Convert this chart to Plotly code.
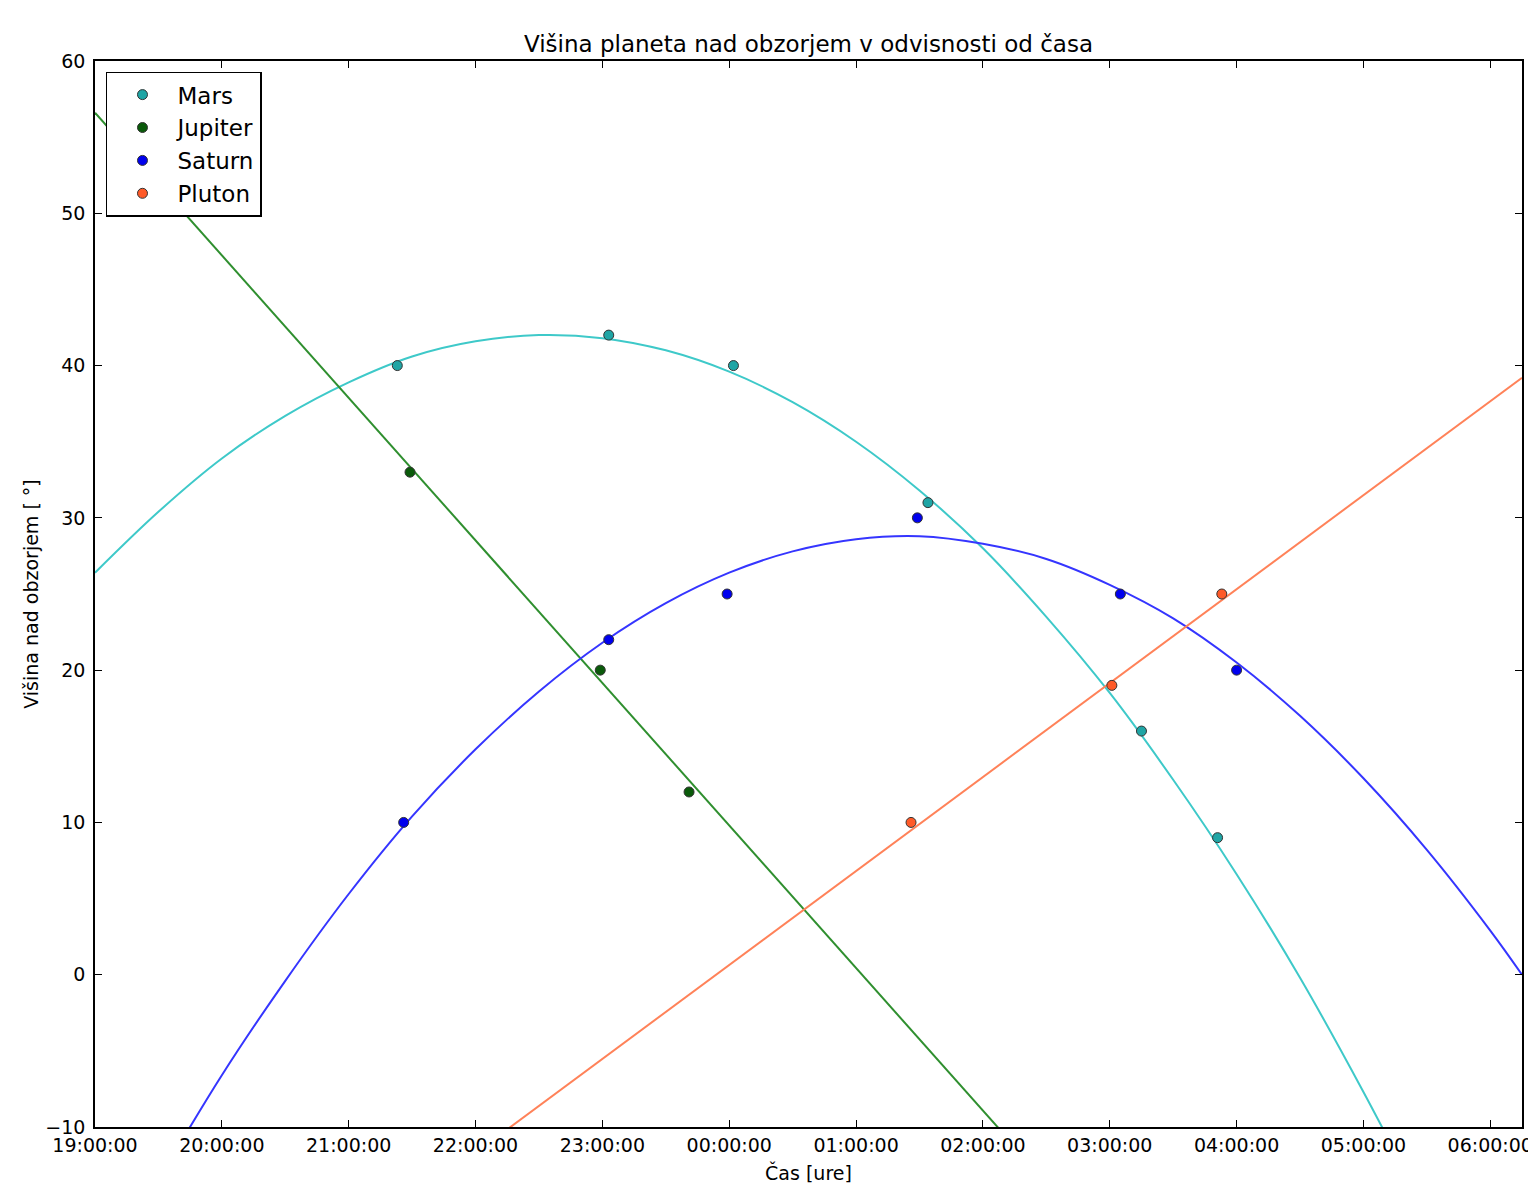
import plotly.graph_objects as go
from datetime import datetime

# ---------------- data ----------------
mars_t = ["21:23", "23:03", "00:02", "01:34", "03:15", "03:51"]
mars_v = [40, 42, 40, 31, 16, 9]

jupiter_t = ["21:29", "22:59", "23:41"]
jupiter_v = [33, 20, 12]

saturn_t = ["21:26", "23:03", "23:59", "01:29", "03:05", "04:00"]
saturn_v = [10, 22, 25, 30, 25, 20]

pluton_t = ["01:26", "03:01", "03:53"]
pluton_v = [10, 19, 25]

# fitted curves as drawn in the picture (sampled)
mars_fit_t = ["19:00", "19:30", "20:00", "20:30", "21:00", "21:30", "22:00", "22:30",
              "23:00", "23:30", "00:00", "00:30", "01:00", "01:30", "02:00", "02:30",
              "03:00", "03:30", "04:00", "04:30", "05:00", "05:30"]
mars_fit_v = [26.4, 30.4, 33.9, 36.7, 38.9, 40.6, 41.6, 42.0, 41.8, 41.0, 39.6, 37.6,
              35.0, 31.8, 28.0, 23.5, 18.5, 12.8, 6.6, -0.2, -7.7, -15.7]

saturn_fit_t = ["19:30", "20:00", "20:30", "21:00", "21:30", "22:00", "22:30", "23:00",
                "23:30", "00:00", "00:30", "01:00", "01:30", "02:00", "02:30", "03:00",
                "03:30", "04:00", "04:30", "05:00", "05:30", "06:00", "06:15"]
saturn_fit_v = [-13.5, -6.6, -0.4, 5.3, 10.4, 14.8, 18.6, 21.8, 24.4, 26.4, 27.8, 28.6,
                28.8, 28.3, 27.3, 25.6, 23.4, 20.5, 17.0, 12.9, 8.2, 2.9, 0.0]

jupiter_fit_t = ["19:00", "02:30"]
jupiter_fit_v = [56.6, -13.6]

pluton_fit_t = ["22:00", "06:15"]
pluton_fit_v = [-11.7, 39.2]

y_ticks = [-10, 0, 10, 20, 30, 40, 50, 60]


def to_dt(hm):
    h, m = map(int, hm.split(":"))
    base = datetime(2015, 1, 1) if h >= 12 else datetime(2015, 1, 2)
    return base.replace(hour=h, minute=m)


def conv(lst):
    return [to_dt(s) for s in lst]


series = [
    ("Mars", mars_t, mars_v, mars_fit_t, mars_fit_v, "#1fa5a5", "#3ec9c9"),
    ("Jupiter", jupiter_t, jupiter_v, jupiter_fit_t, jupiter_fit_v, "#0a5a0a", "#2f8f2f"),
    ("Saturn", saturn_t, saturn_v, saturn_fit_t, saturn_fit_v, "#0000ee", "#3535ff"),
    ("Pluton", pluton_t, pluton_v, pluton_fit_t, pluton_fit_v, "#ff5a28", "#ff8259"),
]

fig = go.Figure()

for name, t, v, ft, fv, mcol, lcol in series:
    fig.add_trace(go.Scatter(
        x=conv(ft), y=fv, mode="lines", line=dict(color=lcol, width=2, shape="spline"),
        showlegend=False, hoverinfo="skip"))

for name, t, v, ft, fv, mcol, lcol in series:
    fig.add_trace(go.Scatter(
        x=conv(t), y=v, mode="markers", name=name,
        marker=dict(color=mcol, size=10, line=dict(color="#333333", width=1))))

font_family = "DejaVu Sans, Arial, sans-serif"

fig.update_layout(
    width=1528, height=1184,
    margin=dict(l=95, r=6, t=61, b=57),
    paper_bgcolor="white", plot_bgcolor="white",
    font=dict(family=font_family, size=19, color="black"),
    title=dict(text="Višina planeta nad obzorjem v odvisnosti od časa",
               x=0.5, xref="paper", y=1 - 44 / 1184, yref="container",
               xanchor="center", yanchor="middle",
               font=dict(size=23, family=font_family, color="black")),
    legend=dict(x=0.0077, y=0.99, xanchor="left", yanchor="top",
                bordercolor="black", borderwidth=1.5, bgcolor="white",
                font=dict(size=23, family=font_family), itemwidth=60,
                tracegroupgap=0),
    showlegend=True,
)

fig.update_xaxes(
    range=[to_dt("19:00"), to_dt("06:15")],
    type="date", dtick=3600000, tick0=to_dt("19:00"), tickformat="%H:%M:%S",
    ticks="inside", ticklen=7, tickcolor="black", tickwidth=1,
    showline=True, linecolor="black", linewidth=1.5, mirror="ticks",
    showgrid=False, zeroline=False, ticklabeloverflow="allow", automargin=False,
    tickfont=dict(size=19),
    title=dict(text="Čas [ure]", standoff=14, font=dict(size=19)),
)

fig.update_yaxes(
    range=[-10, 60], tickvals=y_ticks, ticktext=["−10" if v < 0 else str(v) for v in y_ticks],
    ticks="inside", ticklen=7, tickcolor="black", tickwidth=1,
    showline=True, linecolor="black", linewidth=1.5, mirror="ticks",
    showgrid=False, zeroline=False, ticklabelstandoff=4, automargin=False,
    tickfont=dict(size=19),
    title=dict(text="Višina nad obzorjem [ °]", standoff=2, font=dict(size=19)),
)

fig.write_html("out.html", config={"displayModeBar": False},
               post_script="document.body.style.margin='0px';")
